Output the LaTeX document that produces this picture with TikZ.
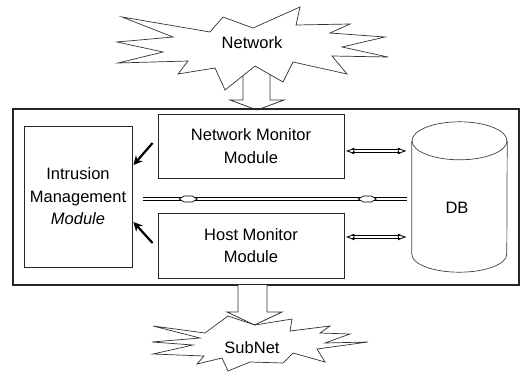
\documentclass[tikz,border=0pt]{standalone}
\usepackage{fontspec}
\setmainfont{Liberation Sans}
\usetikzlibrary{arrows.meta,calc}
\begin{document}
\begin{tikzpicture}[x=1pt,y=-1pt,
  txt/.style={font=\fontsize{16.5}{22.5}\selectfont, align=center, inner sep=0pt},
  box/.style={draw=black!85, line width=0.9pt},
  cyl/.style={draw=black!75, line width=0.7pt},
  shaft/.style={draw=black, line width=0.8pt, double=white, double distance=1.6pt},
  tipL/.style={draw=black, line width=0.8pt, fill=white, -{Latex[open,length=9pt,width=7pt]}},
  bulge/.style={draw=black, line width=0.7pt, fill=white},
  blk/.style={line width=2.2pt, -{Stealth[length=9pt,width=9pt]}},
  bigarrow/.style={draw=black!80, line width=0.8pt, fill=white, line join=miter},
  star/.style={draw=black!80, line width=0.7pt, fill=white, line join=miter}
]
\useasboundingbox (0,0) rectangle (524,372);

% Network cloud and arrow into the system
\draw[bigarrow] (243,60) -- (243,100) -- (230,100) -- (257,110) -- (284,100) -- (270,100) -- (270,60);
\draw[star] (122,17) -- (210,32) -- (223,17) -- (253,28) -- (300,7) -- (296,25) -- (350,24)
  -- (330,33) -- (385,37) -- (342,47) -- (388,57) -- (332,56) -- (347,74) -- (293,62)
  -- (283,82) -- (255,66) -- (225,90) -- (215,68) -- (178,74) -- (188,61) -- (118,63)
  -- (163,52) -- (117,42) -- (173,37) -- cycle;
\node[txt] (net) at (252,43) {Network};

% System box
\node[box, line width=1.2pt, minimum width=506pt, minimum height=176pt, inner sep=0pt] (sys) at (266,197) {};
\node[box, txt, minimum width=108pt, minimum height=141pt] (imm) at (78,196.5)
  {Intrusion\\Management\\{\itshape Module}};
\node[box, txt, minimum width=186pt, minimum height=64pt] (nm) at (251,146) {Network Monitor\\Module};
\node[box, txt, minimum width=186pt, minimum height=65pt] (hm) at (251,245.5) {Host Monitor\\Module};

% DB cylinder
\node[minimum width=95pt, minimum height=150pt, inner sep=0pt] (db) at (459.5,197) {};
\draw[cyl] ($(db.north)+(0,19)$) ellipse [x radius=47.5, y radius=19];
\draw[cyl] ($(db.north west)+(0,19)$) -- ($(db.south west)+(0,-18)$)
  arc[start angle=180, end angle=0, x radius=47.5, y radius=18]
  -- ($(db.north east)+(0,19)$);
\node[txt] (dbt) at (457,208) {DB};

% connectors
\coordinate (a1) at ($(nm.east)+(1,5)$);
\coordinate (b1) at ($(db.west)+(-5,-46)$);
\coordinate (a3) at ($(hm.east)+(1,-8.5)$);
\coordinate (b3) at ($(db.west)+(-5,40)$);
\coordinate (a2) at ($(imm.east)+(11,2.5)$);
\coordinate (b2) at ($(db.west)+(-5,2)$);
\draw[shaft, shorten <=7pt, shorten >=7pt] (a1) -- (b1);
\draw[tipL] ($(a1)!8pt!(b1)$) -- (a1);
\draw[tipL] ($(b1)!8pt!(a1)$) -- (b1);
\draw[shaft, shorten <=7pt, shorten >=7pt] (a3) -- (b3);
\draw[tipL] ($(a3)!8pt!(b3)$) -- (a3);
\draw[tipL] ($(b3)!8pt!(a3)$) -- (b3);
\draw[shaft] (a2) -- (b2);
\coordinate (m1) at ($(a2)!0.17!(b2)$);
\coordinate (m2) at ($(a2)!0.85!(b2)$);
\draw[bulge] ($(m1)+(-9,0)$) -- ($(m1)+(-4,-3)$) -- ($(m1)+(4,-3)$) -- ($(m1)+(9,0)$)
  -- ($(m1)+(4,3)$) -- ($(m1)+(-4,3)$) -- cycle;
\draw[bulge] ($(m2)+(-9,0)$) -- ($(m2)+(-4,-3)$) -- ($(m2)+(4,-3)$) -- ($(m2)+(9,0)$)
  -- ($(m2)+(4,3)$) -- ($(m2)+(-4,3)$) -- cycle;

\coordinate (k1) at ($(nm.west)+(-5,-3)$);
\coordinate (k1e) at ($(imm.east)+(1,-31.5)$);
\coordinate (k2) at ($(hm.west)+(-5,-2.5)$);
\coordinate (k2e) at ($(imm.east)+(1,25.5)$);
\draw[blk] (k1) -- (k1e);
\draw[blk] (k2) -- (k2e);

% SubNet cloud and arrow out of the system
\draw[star] (153,326) -- (205,333) -- (228,316) -- (255,325) -- (292,319) -- (290,331)
  -- (330,326) -- (320,333) -- (350,334) -- (325,343) -- (368,342) -- (317,349)
  -- (325,362) -- (293,353) -- (283,363) -- (250,362) -- (228,371) -- (222,358)
  -- (197,364) -- (204,356) -- (153,354) -- (193,345) -- (152,342) -- (200,338) -- cycle;
\node[txt] (sub) at (252,348) {SubNet};
\draw[bigarrow] (238,285) -- (238,312) -- (227,312) -- (254.5,325) -- (282,312) -- (267,312) -- (267,285);
\end{tikzpicture}
\end{document}
